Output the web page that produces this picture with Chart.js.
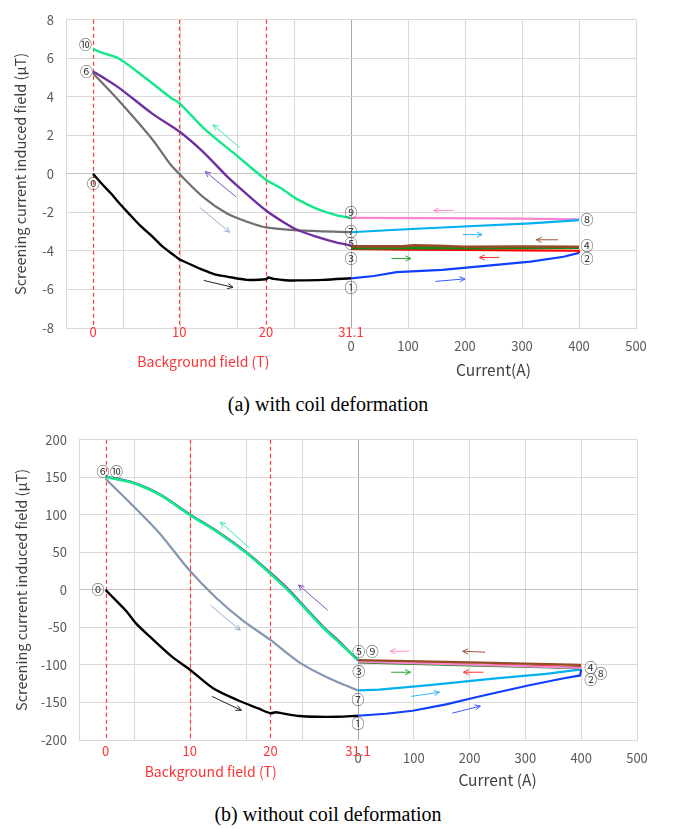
<!DOCTYPE html>
<html>
<head>
<meta charset="utf-8">
<script src="https://cdn.jsdelivr.net/npm/chart.js@4.4.1/dist/chart.umd.min.js"></script>
<style>
  body { margin: 0; background: #fff; }
  #wrap { position: relative; width: 679px; height: 829px; }
  .box { position: absolute; left: 0; }
  .cap { position: absolute; left: 0; width: 656px; text-align: center;
         font-family: "Liberation Serif", serif; font-size: 20px; color: #000; }
</style>
</head>
<body>
<div id="wrap">
  <div class="box" style="top:0"><canvas id="chartA" width="679" height="390"></canvas></div>
  <div class="cap" style="top:393px">(a) with coil deformation</div>
  <div class="box" style="top:420px"><canvas id="chartB" width="679" height="370"></canvas></div>
  <div class="cap" style="top:803px">(b) without coil deformation</div>
</div>
<script>
// background field ticks (T) and where they sit on the shared x axis
const fieldTicks = [0, 10, 20, 31.1];
const fieldPosA = [-452.6, -301.2, -149.1, 0];
const fieldPosB = [-452.5, -301.7, -157, 0];

// ---- (a) with coil deformation ----  [field T or current A, uT]
const a_0to1 = [[0,0],[1.1,-0.55],[2.17,-1.06],[3.1,-1.55],[4.15,-2.06],[5.5,-2.7],[6.86,-3.24],[8,-3.75],[9.2,-4.16],[10,-4.43],[10.8,-4.6],[12.8,-5.0],[14,-5.2],[15.5,-5.33],[17.8,-5.5],[20,-5.47],[20.3,-5.38],[21,-5.45],[22.5,-5.52],[24.05,-5.53],[27.5,-5.5],[31.1,-5.42]];
const a_1to2 = [[0,-5.42],[40,-5.3],[80,-5.1],[160,-4.98],[245,-4.75],[315,-4.55],[373,-4.3],[400,-4.1]];
const a_2to3 = [[400,-4.1],[400,-3.99],[300,-3.97],[200,-3.95],[100,-3.93],[0,-3.9]];
const a_3to4 = [[0,-3.86],[200,-3.86],[400,-3.83]];
const a_4to5 = [[400,-3.78],[300,-3.77],[200,-3.78],[150,-3.73],[110,-3.71],[90,-3.76],[0,-3.76]];
const a_5to6 = [[31.1,-3.71],[29.27,-3.57],[26.66,-3.27],[24.05,-2.9],[21.87,-2.4],[20,-1.9],[17.8,-1.06],[15.5,-0.13],[12.8,1.12],[10,2.2],[6.86,3.13],[2.98,4.48],[1,5.05],[0,5.32]];
const a_6to7 = [[0,5.23],[2.98,3.81],[6.86,1.8],[8.96,0.5],[10,0],[12.8,-1.22],[15.5,-2.06],[17.8,-2.48],[20,-2.78],[24.05,-2.93],[31.1,-3.02]];
const a_7to8 = [[0,-3.03],[80,-2.9],[197,-2.73],[315,-2.57],[400,-2.4]];
const a_8to9 = [[400,-2.36],[300,-2.32],[150,-2.3],[0,-2.28]];
const a_9to10 = [[31.1,-2.28],[29.27,-2.15],[26.66,-1.81],[24.05,-1.31],[21.87,-0.72],[20,-0.3],[16.6,0.96],[12.8,2.38],[10,3.68],[8.96,3.97],[6.08,4.98],[2.98,5.99],[1,6.3],[0,6.49]];

// ---- (b) without coil deformation ----
const b_0to1 = [[0,0],[1.5,-17],[2.46,-28],[3.65,-45],[5.24,-62],[8,-90],[10,-106],[12.9,-131],[16.2,-148],[18.5,-158],[20,-164.3],[20.7,-163],[21.5,-164.5],[23.7,-168],[25.8,-169],[28.5,-169],[31.1,-167.7]];
const b_1to2 = [[0,-167.7],[50,-165],[98,-161],[158,-152.6],[217,-142],[307,-127],[367,-118],[398,-114],[400,-106]];
const b_2to3 = [[400,-103],[200,-99.5],[0,-96]];
const b_3to4 = [[0,-96.5],[200,-100.5],[400,-104]];
const b_4to5 = [[400,-100],[200,-96.5],[0,-93.5]];
const b_5to6 = [[31.1,-94],[28.8,-69.5],[26.6,-48],[24.5,-24.5],[22.4,-0.5],[20,23],[17,50.5],[13.7,76],[10,101],[6.44,127.5],[3.47,142.5],[0,151]];
const b_6to7 = [[0,148],[3.47,109.7],[6.44,75.2],[10,25.8],[13.3,-10.7],[16.6,-40.9],[20,-66.7],[23.7,-96.8],[27.5,-118],[31.1,-134]];
const b_7to8 = [[0,-134],[38,-133],[128,-127],[247,-118],[337,-112],[400,-106]];
const b_8to9 = [[400,-104],[200,-99.5],[0,-95.5]];
const b_9to10 = [[31.1,-93],[28.8,-71],[26.6,-49.4],[24.5,-25.8],[22.4,-2.2],[20,21.5],[17,49.4],[13.7,75.2],[10,100],[6.44,126.8],[3.47,141.9],[1.5,147],[0,150.6]];

// direction arrows [x1, y1, x2, y2] in axis units
const arrowsA = [[-195.4,1.37,-242.1,2.55],[-201.8,-1.19,-255.6,0.12],[-265.6,-1.73,-213,-3.03],[-258.6,-5.53,-207,-5.89],
  [180,-1.9,145,-1.9],[196,-3.15,230,-3.15],[363,-3.42,325,-3.42],[71,-4.39,105,-4.39],[260,-4.34,225,-4.34],[148,-5.58,200,-5.45]];
const arrowsB = [[-194.3,55.9,-246.7,90.3],[-54.1,-27.1,-106.5,6.5],[-264.1,-20.6,-210.9,-53.8],[-261.8,-141.9,-209.1,-160.4],
  [92.2,-81.7,57.6,-81.7],[227.7,-83,187.6,-81.7],[59.4,-109.7,94,-109.7],[224.7,-109.7,188.9,-109.7],[95.2,-141.9,146,-136.4],[168.6,-164.3,219.3,-154.8]];
const arrowColorsA = ['#3de8a8','#7d52c0','#9aaed0','#222222','#ff8fd0','#33b5f0','#9a5a38','#22a030','#ff3030','#3a5cff'];
const arrowColorsB = ['#3de8a8','#7d52c0','#9aaed0','#222222','#ff8fd0','#9a5a38','#22a030','#ff3030','#33b5f0','#3a5cff'];

// step markers
const marksA = [['⑩',-466,6.74],['⑥',-464,5.32],['⓪',-452,-0.47],['⑨',0,-1.98],['⑦',0,-2.95],['⑤',0,-3.57],['③',0,-4.38],['①',0,-5.89],['⑧',414,-2.35],['④',414,-3.67],['②',414,-4.39]];
const marksB = [['⑥',-457,157.8],['⑩',-433,157.8],['⓪',-466,1.3],['⑤',1.5,-81],['⑨',25.4,-81.7],['③',1.5,-108.8],['⑦',0,-146],['①',0,-177],['④',417,-103.2],['⑧',435,-110.5],['②',417,-118.3]];

const FONT = '"Noto Sans CJK JP", "Noto Sans", sans-serif';

function fieldToAxis(t, pos) {
  for (let i = 0; i < fieldTicks.length - 1; i++) {
    if (t <= fieldTicks[i + 1] || i === fieldTicks.length - 2) {
      const f = (t - fieldTicks[i]) / (fieldTicks[i + 1] - fieldTicks[i]);
      return pos[i] + f * (pos[i + 1] - pos[i]);
    }
  }
}

function drawArrow(ctx, x1, y1, x2, y2, color) {
  const ang = Math.atan2(y2 - y1, x2 - x1);
  const h = 6;
  ctx.strokeStyle = color;
  ctx.lineWidth = 1;
  ctx.beginPath();
  ctx.moveTo(x1, y1);
  ctx.lineTo(x2, y2);
  ctx.moveTo(x2 - h * Math.cos(ang - 0.45), y2 - h * Math.sin(ang - 0.45));
  ctx.lineTo(x2, y2);
  ctx.lineTo(x2 - h * Math.cos(ang + 0.45), y2 - h * Math.sin(ang + 0.45));
  ctx.stroke();
}

function makeOverlay(cfg) {
  return {
    id: 'overlay',
    beforeDatasetsDraw(chart) {
      const { ctx, chartArea, scales: { x } } = chart;
      ctx.save();
      ctx.strokeStyle = '#ff3b3b';
      ctx.lineWidth = 1.2;
      ctx.setLineDash([4, 3]);
      cfg.fieldPos.slice(0, 3).forEach(v => {
        const px = Math.round(x.getPixelForValue(v)) + 0.5;
        ctx.beginPath();
        ctx.moveTo(px, chartArea.top);
        ctx.lineTo(px, chartArea.bottom);
        ctx.stroke();
      });
      ctx.restore();
    },
    afterDatasetsDraw(chart) {
      const { ctx, scales: { x, y } } = chart;
      ctx.save();
      cfg.arrows.forEach((a, i) => {
        drawArrow(ctx, x.getPixelForValue(a[0]), y.getPixelForValue(a[1]),
          x.getPixelForValue(a[2]), y.getPixelForValue(a[3]), cfg.arrowColors[i]);
      });
      ctx.fillStyle = '#3a3a3a';
      ctx.font = '13px ' + FONT;
      ctx.textAlign = 'center';
      ctx.textBaseline = 'middle';
      cfg.marks.forEach(m => ctx.fillText(m[0], x.getPixelForValue(m[1]), y.getPixelForValue(m[2])));
      ctx.restore();
    },
    afterDraw(chart) {
      const { ctx, chartArea, scales: { x } } = chart;
      ctx.save();
      ctx.textAlign = 'center';
      ctx.textBaseline = 'middle';
      ctx.fillStyle = '#ff3333';
      ctx.font = '13px ' + FONT;
      fieldTicks.forEach((t, i) => ctx.fillText(String(t), x.getPixelForValue(cfg.fieldPos[i]), chartArea.bottom + cfg.redOffset));
      ctx.font = '14px ' + FONT;
      ctx.fillText('Background field (T)', x.getPixelForValue(cfg.fieldTitleX), cfg.fieldTitleY);
      ctx.fillStyle = '#404040';
      ctx.font = '15.5px ' + FONT;
      ctx.fillText(cfg.currentTitle, x.getPixelForValue(250), cfg.currentTitleY);
      ctx.restore();
    }
  };
}

function buildChart(id, cfg) {
  const datasets = cfg.series.map(s => ({
    data: s.data.map(p => ({ x: s.field ? fieldToAxis(p[0], cfg.fieldPos) : p[0], y: p[1] })),
    borderColor: s.color,
    borderWidth: s.width || 2.2,
    showLine: true,
    pointRadius: 0,
    fill: false,
    tension: s.field ? 0.3 : 0
  }));
  return new Chart(document.getElementById(id), {
    type: 'scatter',
    data: { datasets },
    options: {
      responsive: false,
      animation: false,
      layout: { padding: { top: 10, right: cfg.padRight, left: 0, bottom: 0 } },
      plugins: { legend: { display: false }, tooltip: { enabled: false } },
      scales: {
        x: {
          type: 'linear', min: -500, max: 500,
          ticks: { stepSize: 100, autoSkip: false, maxRotation: 0, padding: 10, color: '#595959',
                   font: { family: FONT, size: 13 }, callback: v => v >= 0 ? String(v) : '' },
          grid: { color: c => (c.tick && c.tick.value === 0) ? '#a8a8a8' : '#d9d9d9', drawTicks: false },
          border: { color: '#d9d9d9' },
          afterFit: s => { s.height = cfg.xAxisH; }
        },
        y: {
          min: cfg.yMin, max: cfg.yMax,
          ticks: { stepSize: cfg.yStep, padding: 12, color: '#595959', font: { family: FONT, size: 13 } },
          grid: { color: c => (c.tick && c.tick.value === 0) ? '#c4c4c4' : '#d9d9d9', drawTicks: false },
          border: { color: '#d9d9d9' },
          title: { display: true, text: 'Screening current induced field (μT)', color: '#404040',
                   font: { family: FONT, size: 14.5 }, padding: { top: cfg.titlePad, bottom: 0 } },
          afterFit: s => { s.width = cfg.yAxisW; }
        }
      }
    },
    plugins: [makeOverlay(cfg)]
  });
}

buildChart('chartA', {
  yMin: -8, yMax: 8, yStep: 2, yAxisW: 66, xAxisH: 62, padRight: 43, titlePad: 12,
  fieldPos: fieldPosA, redOffset: 4, fieldTitleX: -259, fieldTitleY: 362,
  currentTitle: 'Current(A)', currentTitleY: 370,
  arrows: arrowsA, arrowColors: arrowColorsA, marks: marksA,
  series: [
    { data: a_4to5, color: '#944c24', width: 2.6 },
    { data: a_3to4, color: '#1a8a1a', width: 2.4 },
    { data: a_2to3, color: '#ff0000' },
    { data: a_0to1, color: '#000000', field: true, width: 2.4 },
    { data: a_1to2, color: '#1040ff' },
    { data: a_5to6, color: '#7030a0', field: true, width: 2.4 },
    { data: a_6to7, color: '#707070', field: true },
    { data: a_7to8, color: '#00b0f0' },
    { data: a_8to9, color: '#f986d0' },
    { data: a_9to10, color: '#13e88a', field: true, width: 2.4 }
  ]
});

buildChart('chartB', {
  yMin: -200, yMax: 200, yStep: 50, yAxisW: 79, xAxisH: 50, padRight: 42, titlePad: 13,
  fieldPos: fieldPosB, redOffset: 11, fieldTitleX: -264, fieldTitleY: 351.7,
  currentTitle: 'Current (A)', currentTitleY: 360,
  arrows: arrowsB, arrowColors: arrowColorsB, marks: marksB,
  series: [
    { data: b_9to10, color: '#13e88a', field: true, width: 2.6 },
    { data: b_5to6, color: '#7030a0', field: true },
    { data: b_4to5, color: '#944c24' },
    { data: b_8to9, color: '#f986d0' },
    { data: b_3to4, color: '#1a8a1a', width: 2.4 },
    { data: b_2to3, color: '#ff0000' },
    { data: b_0to1, color: '#000000', field: true, width: 2.4 },
    { data: b_1to2, color: '#1040ff' },
    { data: b_6to7, color: '#8497b0', field: true },
    { data: b_7to8, color: '#00b0f0' }
  ]
});
</script>
</body>
</html>
